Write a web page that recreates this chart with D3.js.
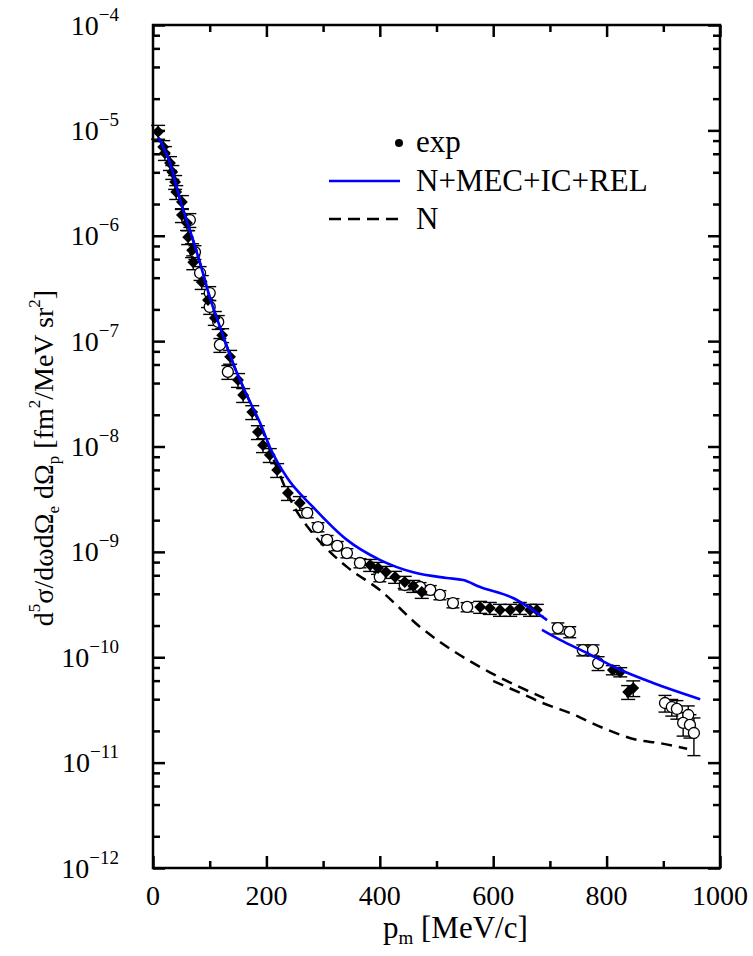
<!DOCTYPE html>
<html>
<head>
<meta charset="utf-8">
<script src="https://cdn.jsdelivr.net/npm/d3@7"></script>
<style>
  body { margin: 0; background: #ffffff; }
  svg { display: block; font-family: "Liberation Serif", "Times New Roman", serif; }
</style>
</head>
<body>
<div id="chart"></div>
<script>
// ---- tick labels ----
const xMajorTicks = [0, 200, 400, 600, 800, 1000];
const xMinorTicks = [100, 300, 500, 700, 900];
const yDecades = [-12, -11, -10, -9, -8, -7, -6, -5, -4];
const yMinorMantissas = [2, 4, 6, 8];

// ---- theory: N+MEC+IC+REL (two kinematic pieces) ----
const fullP1 = [10, 30, 48, 65, 83, 100, 122, 141, 167, 189, 206, 236, 282, 342, 400, 459, 518, 547, 577, 635, 695];
const fullV1 = [8.5e-6, 4.9e-6, 2.18e-6, 1.13e-6, 5.5e-7, 2.62e-7, 1.19e-7, 6.2e-8, 2.95e-8, 1.67e-8, 9.9e-9, 5.1e-9, 2.67e-9, 1.30e-9, 8.4e-10, 6.4e-10, 5.65e-10, 5.4e-10, 4.64e-10, 3.65e-10, 2.25e-10];
const fullP2 = [686, 718, 765, 824, 882, 965];
const fullV2 = [1.82e-10, 1.46e-10, 1.10e-10, 7.6e-11, 5.7e-11, 4.0e-11];

// ---- theory: N ----
const nP1 = [10, 30, 48, 65, 83, 100, 122, 141, 167, 189, 220, 247, 277, 312, 342, 400, 471, 541, 594, 647, 690];
const nV1 = [8.5e-6, 4.9e-6, 2.18e-6, 1.13e-6, 5.5e-7, 2.62e-7, 1.19e-7, 6.2e-8, 2.95e-8, 1.6e-8, 6.0e-9, 2.8e-9, 1.61e-9, 1.0e-9, 7.2e-10, 4.35e-10, 1.94e-10, 1.05e-10, 7.2e-11, 5.2e-11, 4.1e-11];
const nP2 = [600, 647, 686, 735, 794, 854, 894, 942];
const nV2 = [5.95e-11, 4.6e-11, 3.7e-11, 2.96e-11, 2.13e-11, 1.64e-11, 1.53e-11, 1.35e-11];

// ---- experiment, filled diamonds (error in %) ----
const expFilledP = [9, 18, 21, 30, 34, 39, 41, 51, 51, 60, 62, 69, 71, 86, 97, 109, 122, 136, 150, 159, 175, 185, 194, 206, 219, 238, 259, 383, 397, 411, 427, 444, 459, 474, 577, 594, 612, 630, 647, 665, 677, 811, 824, 838, 847];
const expFilledV = [9.7e-6, 6.95e-6, 6.1e-6, 4.9e-6, 4.03e-6, 3.24e-6, 2.6e-6, 2.09e-6, 1.57e-6, 1.32e-6, 9.7e-7, 7.3e-7, 5.6e-7, 3.64e-7, 2.45e-7, 1.66e-7, 1.14e-7, 7.1e-8, 4.28e-8, 3.08e-8, 2.12e-8, 1.37e-8, 1.03e-8, 8.3e-9, 5.98e-9, 3.62e-9, 2.91e-9, 7.5e-10, 7.03e-10, 6.44e-10, 5.78e-10, 5.18e-10, 4.74e-10, 4.16e-10, 3.0e-10, 2.93e-10, 2.81e-10, 2.81e-10, 2.93e-10, 2.81e-10, 2.81e-10, 7.57e-11, 7.24e-11, 4.68e-11, 5.1e-11];
const expFilledErr = [15, 15, 15, 15, 15, 15, 15, 15, 15, 15, 15, 15, 15, 15, 15, 15, 15, 15, 15, 15, 15, 15, 15, 15, 15, 15, 15, 13, 13, 13, 13, 13, 13, 13, 13, 13, 13, 13, 13, 13, 13, 10, 10, 15, 17];

// ---- experiment, open circles (error in %) ----
const expOpenP = [65, 74, 83, 100, 100, 115, 118, 132, 272, 291, 307, 325, 342, 365, 400, 444, 471, 489, 506, 529, 554, 714, 735, 758, 776, 785, 903, 915, 924, 944, 935, 947, 954];
const expOpenV = [1.41e-6, 7.0e-7, 4.43e-7, 2.86e-7, 2.11e-7, 1.52e-7, 9.2e-8, 5.1e-8, 2.34e-9, 1.72e-9, 1.30e-9, 1.14e-9, 9.75e-10, 7.84e-10, 5.78e-10, 4.85e-10, 4.64e-10, 4.35e-10, 3.9e-10, 3.27e-10, 3.0e-10, 1.89e-10, 1.74e-10, 1.17e-10, 1.17e-10, 8.8e-11, 3.68e-11, 3.37e-11, 3.23e-11, 2.83e-11, 2.38e-11, 2.28e-11, 1.91e-11];
const expOpenErr = [15, 15, 15, 15, 15, 15, 15, 15, 10, 10, 10, 10, 10, 10, 10, 10, 10, 10, 10, 10, 10, 12, 12, 12, 12, 15, 18, 18, 20, 22, 25, 25, 39];

const width = 753, height = 956;
const plot = { left: 153, right: 720, top: 25, bottom: 868 };

const svg = d3.select('#chart')
    .append('svg')
    .attr('width', width)
    .attr('height', height);

svg.append('rect').attr('width', width).attr('height', height).attr('fill', '#ffffff');

const x = d3.scaleLinear().domain([0, 1000]).range([plot.left, plot.right]);
const y = d3.scaleLog().domain([1e-12, 1e-4]).range([plot.bottom, plot.top]);

const yMajorTicks = yDecades.map(e => Math.pow(10, e));
const yMinorTicks = yDecades.slice(0, -1).flatMap(e => yMinorMantissas.map(m => m * Math.pow(10, e)));

// axes, ticks pointing inward on all four sides
function drawAxis(axis, transform, size, values) {
    svg.append('g')
        .attr('transform', transform)
        .call(axis.tickValues(values).tickSize(-size).tickFormat(''))
        .call(g => g.select('.domain').remove())
        .call(g => g.selectAll('line').attr('stroke', '#000').attr('stroke-width', 2.5));
}
drawAxis(d3.axisBottom(x), `translate(0,${plot.bottom})`, 12, xMajorTicks);
drawAxis(d3.axisBottom(x), `translate(0,${plot.bottom})`, 7, xMinorTicks);
drawAxis(d3.axisTop(x), `translate(0,${plot.top})`, 12, xMajorTicks);
drawAxis(d3.axisTop(x), `translate(0,${plot.top})`, 7, xMinorTicks);
drawAxis(d3.axisLeft(y), `translate(${plot.left},0)`, 12, yMajorTicks);
drawAxis(d3.axisLeft(y), `translate(${plot.left},0)`, 7, yMinorTicks);
drawAxis(d3.axisRight(y), `translate(${plot.right},0)`, 12, yMajorTicks);
drawAxis(d3.axisRight(y), `translate(${plot.right},0)`, 7, yMinorTicks);

svg.append('rect')
    .attr('x', plot.left).attr('y', plot.top)
    .attr('width', plot.right - plot.left).attr('height', plot.bottom - plot.top)
    .attr('fill', 'none').attr('stroke', '#000').attr('stroke-width', 2.5);

// x tick labels
svg.selectAll('.x-label')
    .data(xMajorTicks)
    .enter()
    .append('text')
    .attr('class', 'x-label')
    .attr('x', d => x(d))
    .attr('y', 905)
    .attr('text-anchor', 'middle')
    .style('font-size', '28px')
    .text(d => d);

// y tick labels 10^n
const yLabels = svg.selectAll('.y-label')
    .data(yDecades)
    .enter()
    .append('text')
    .attr('class', 'y-label')
    .attr('x', 119)
    .attr('y', d => y(Math.pow(10, d)) + 9.5)
    .attr('text-anchor', 'end')
    .style('font-size', '28px');
yLabels.append('tspan').text('10');
yLabels.append('tspan')
    .attr('dy', -14)
    .style('font-size', '19px')
    .text(d => '\u2212' + Math.abs(d));

// axis titles
const xTitle = svg.append('text')
    .attr('x', 383)
    .attr('y', 938)
    .style('font-size', '31px');
xTitle.append('tspan').text('p');
xTitle.append('tspan').attr('dy', 6).style('font-size', '19px').text('m');
xTitle.append('tspan').attr('dy', -6).text(' [MeV/c]');

const yTitle = svg.append('text')
    .attr('transform', 'translate(53,458) rotate(-90)')
    .attr('text-anchor', 'middle')
    .style('font-size', '28px');
const yParts = [
    { t: 'd', s: 0 }, { t: '5', s: -1 }, { t: '\u03c3/d\u03c9d\u03a9', s: 0 }, { t: 'e', s: 1 },
    { t: ' d\u03a9', s: 0 }, { t: 'p', s: 1 }, { t: ' [fm', s: 0 }, { t: '2', s: -1 },
    { t: '/MeV sr', s: 0 }, { t: '2', s: -1 }, { t: ']', s: 0 }
];
let prevShift = 0;
yParts.forEach(p => {
    const shift = p.s === -1 ? -13 : (p.s === 1 ? 6 : 0);
    yTitle.append('tspan')
        .attr('dy', shift - prevShift)
        .style('font-size', p.s === 0 ? '28px' : '17px')
        .text(p.t);
    prevShift = shift;
});

// experimental points with error bars
function drawErrors(P, V, E, cap) {
    const g = svg.append('g').attr('stroke', '#000').attr('stroke-width', 1.4);
    P.forEach((p, i) => {
        const lo = y(V[i] * (1 - E[i] / 100));
        const hi = y(V[i] * (1 + E[i] / 100));
        const cx = x(p);
        g.append('line').attr('x1', cx).attr('x2', cx).attr('y1', lo).attr('y2', hi);
        g.append('line').attr('x1', cx - cap).attr('x2', cx + cap).attr('y1', lo).attr('y2', lo);
        g.append('line').attr('x1', cx - cap).attr('x2', cx + cap).attr('y1', hi).attr('y2', hi);
    });
}
drawErrors(expOpenP, expOpenV, expOpenErr, 6.5);
drawErrors(expFilledP, expFilledV, expFilledErr, 7);

svg.append('g')
    .selectAll('circle')
    .data(expOpenP.map((p, i) => [p, expOpenV[i]]))
    .enter()
    .append('circle')
    .attr('cx', d => x(d[0]))
    .attr('cy', d => y(d[1]))
    .attr('r', 5.5)
    .attr('fill', '#fff')
    .attr('stroke', '#000')
    .attr('stroke-width', 1.3);

const diamond = d3.symbol(d3.symbolSquare, 70);
svg.append('g')
    .selectAll('path')
    .data(expFilledP.map((p, i) => [p, expFilledV[i]]))
    .enter()
    .append('path')
    .attr('d', diamond)
    .attr('transform', d => `translate(${x(d[0])},${y(d[1])}) rotate(45)`)
    .attr('fill', '#000');

// theory curves
const line = d3.line()
    .x(d => x(d[0]))
    .y(d => y(d[1]))
    .curve(d3.curveMonotoneX);

[[nP1, nV1], [nP2, nV2]].forEach(([P, V]) => {
    svg.append('path')
        .attr('d', line(P.map((p, i) => [p, V[i]])))
        .attr('fill', 'none')
        .attr('stroke', '#000')
        .attr('stroke-width', 2.5)
        .attr('stroke-dasharray', '11,7');
});
[[fullP1, fullV1], [fullP2, fullV2]].forEach(([P, V]) => {
    svg.append('path')
        .attr('d', line(P.map((p, i) => [p, V[i]])))
        .attr('fill', 'none')
        .attr('stroke', '#0000ff')
        .attr('stroke-width', 2.6);
});

// legend
const legend = svg.append('g');
legend.append('circle').attr('cx', 399).attr('cy', 143).attr('r', 4).attr('fill', '#000');
legend.append('line').attr('x1', 329).attr('x2', 400).attr('y1', 181).attr('y2', 181)
    .attr('stroke', '#0000ff').attr('stroke-width', 2.6);
legend.append('line').attr('x1', 329).attr('x2', 400).attr('y1', 219).attr('y2', 219)
    .attr('stroke', '#000').attr('stroke-width', 2.5).attr('stroke-dasharray', '12,7');
const legendTexts = ['exp', 'N+MEC+IC+REL', 'N'];
legend.selectAll('text')
    .data(legendTexts)
    .enter()
    .append('text')
    .attr('x', 416)
    .attr('y', (d, i) => 152 + i * 38.5)
    .style('font-size', '31px')
    .text(d => d);
</script>
</body>
</html>
